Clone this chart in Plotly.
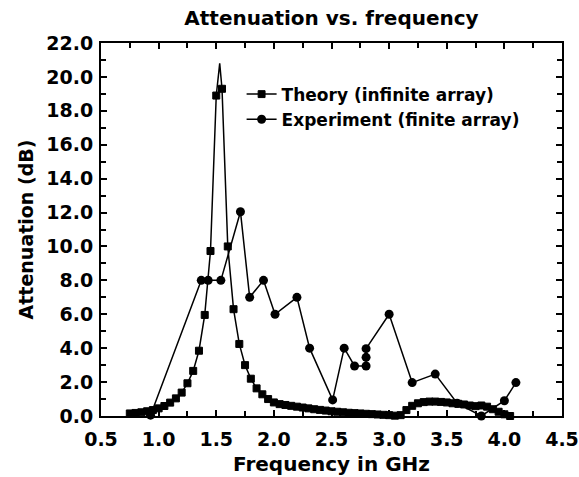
import plotly.graph_objects as go

# Theory (infinite array): frequency (GHz) and attenuation (dB)
theory_f = [0.75, 0.80, 0.85, 0.90, 0.95, 1.00, 1.05, 1.10, 1.15, 1.20, 1.25, 1.30, 1.35, 1.40,
            1.45, 1.50, 1.53, 1.55, 1.60, 1.65, 1.70, 1.75, 1.80, 1.85, 1.90, 1.95, 2.00,
            2.05, 2.10, 2.15, 2.20, 2.25, 2.30, 2.35, 2.40, 2.45, 2.50, 2.55, 2.60, 2.65,
            2.70, 2.75, 2.80, 2.85, 2.90, 2.95, 3.00, 3.05, 3.10, 3.15, 3.20, 3.25, 3.30,
            3.35, 3.40, 3.45, 3.50, 3.55, 3.60, 3.65, 3.70, 3.75, 3.80, 3.85, 3.90, 3.95,
            4.00, 4.05]
theory_db = [0.15, 0.18, 0.22, 0.28, 0.35, 0.45, 0.59, 0.79, 1.04, 1.38, 1.93, 2.66, 3.85, 5.96,
             9.73, 18.9, 20.8, 19.3, 10.0, 6.3, 4.25, 3.0, 2.2, 1.63, 1.28, 1.0, 0.8,
             0.7, 0.65, 0.6, 0.55, 0.5, 0.45, 0.4, 0.36, 0.32, 0.28, 0.25, 0.22, 0.19,
             0.17, 0.15, 0.13, 0.11, 0.09, 0.07, 0.05, 0.02, 0.05, 0.35, 0.6, 0.75, 0.82,
             0.85, 0.85, 0.83, 0.8, 0.75, 0.72, 0.68, 0.62, 0.58, 0.62, 0.55, 0.4, 0.25,
             0.1, 0.0]
theory_peak_f = 1.53  # line-only point (no marker)

# Experiment (finite array)
exp_f = [0.93, 1.37, 1.43, 1.54, 1.71, 1.79, 1.91, 2.01, 2.20, 2.31, 2.51, 2.61, 2.70,
         2.80, 2.80, 2.80, 3.00, 3.20, 3.40, 3.59, 3.80, 4.00, 4.10]
exp_db = [0.05, 8.0, 8.0, 8.0, 12.05, 7.0, 8.0, 6.0, 7.0, 4.0, 0.95, 4.0, 2.95,
          2.95, 3.46, 3.97, 6.0, 1.97, 2.47, 0.75, 0.0, 0.9, 1.97]

x_ticks = [0.5, 1.0, 1.5, 2.0, 2.5, 3.0, 3.5, 4.0, 4.5]
y_ticks = [0, 2, 4, 6, 8, 10, 12, 14, 16, 18, 20, 22]

FONT = "DejaVu Sans"
theory_sizes = [0 if f == theory_peak_f else 7 for f in theory_f]

fig = go.Figure()
fig.add_trace(go.Scatter(
    x=theory_f, y=theory_db, mode="lines+markers", name="Theory (infinite array)",
    line=dict(color="black", width=1.5),
    marker=dict(symbol="square", size=theory_sizes, color="black", opacity=1,
                line=dict(color="black", width=1)),
    cliponaxis=False))
fig.add_trace(go.Scatter(
    x=exp_f, y=exp_db, mode="lines+markers", name="Experiment (finite array)",
    line=dict(color="black", width=1.5),
    marker=dict(symbol="circle", size=9, color="black", opacity=1,
                line=dict(color="black", width=0)),
    cliponaxis=False))

axis_common = dict(showline=True, linecolor="black", linewidth=2, mirror="allticks",
                   ticks="inside", ticklen=6, tickwidth=1.5, tickcolor="black",
                   showgrid=False, zeroline=False, automargin=False,
                   tickfont=dict(family=FONT, size=19, color="black", weight="bold"))

fig.update_layout(
    width=579, height=477,
    margin=dict(l=101, r=17, t=43, b=61),
    paper_bgcolor="white", plot_bgcolor="white",
    title=dict(text="Attenuation vs. frequency", x=0.5725, xanchor="center",
               y=0.963, yanchor="middle",
               font=dict(family=FONT, size=20, color="black", weight="bold")),
    xaxis=dict(range=[0.5, 4.5], tickvals=x_ticks, tickformat=".1f",
               ticklabelstandoff=5,
               minor=dict(dtick=0.25, ticks="inside", ticklen=5, tickcolor="black", tickwidth=1.5),
               title=dict(text="Frequency in GHz", standoff=8,
                          font=dict(family=FONT, size=20, color="black", weight="bold")),
               **axis_common),
    yaxis=dict(range=[0, 22], tickvals=y_ticks, tickformat=".1f",
               ticklabelstandoff=2,
               minor=dict(dtick=1, ticks="inside", ticklen=5, tickcolor="black", tickwidth=1.5),
               title=dict(text="Attenuation (dB)", standoff=8,
                          font=dict(family=FONT, size=19, color="black", weight="bold")),
               **axis_common),
    legend=dict(x=0.305, y=0.91, xanchor="left", yanchor="top", bgcolor="rgba(0,0,0,0)",
                font=dict(family=FONT, size=17, color="black", weight="bold"),
                tracegroupgap=0),
    showlegend=True,
)

fig.write_html("out.html")
